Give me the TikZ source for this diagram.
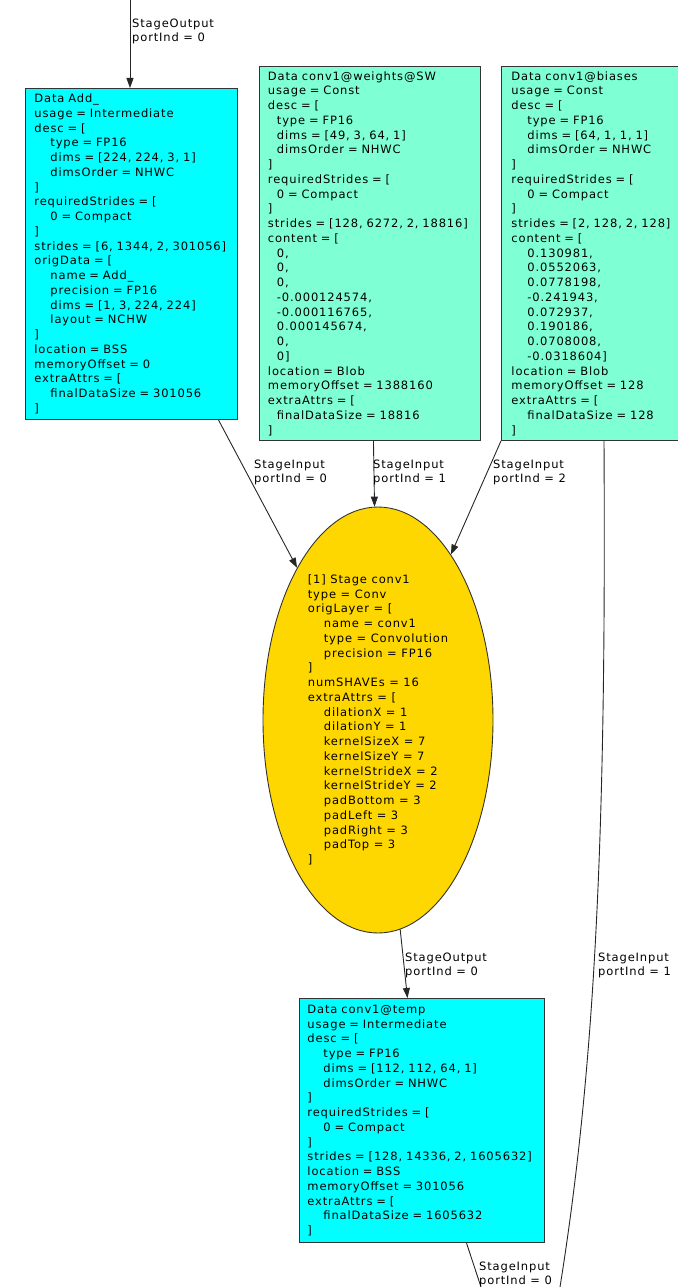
\documentclass[tikz,border=0pt]{standalone}
\usepackage{fontspec}
\newfontfamily\gv[LetterSpace=7.5]{DejaVu Sans}
\usetikzlibrary{arrows.meta,shapes.geometric}
\definecolor{gvcyan}{HTML}{00FFFF}
\definecolor{gvaqua}{HTML}{7FFFD4}
\definecolor{gvgold}{HTML}{FFD700}
\newcommand\IA{\hspace*{16pt}}
\newcommand\IB{\hspace*{9pt}}
\tikzset{
  gvfont/.style={font=\gv\fontsize{11.5}{14.75}\selectfont},
  databox/.style={gvfont, draw=black!80, line width=0.9pt, rectangle, anchor=north west,
    align=left, inner xsep=9pt, inner ysep=0pt},
  stagebox/.style={gvfont, draw=black!80, line width=0.9pt, ellipse, fill=gvgold,
    align=left, inner sep=0pt, minimum width=230pt, minimum height=426pt},
  elabel/.style={gvfont, anchor=west, align=left, inner sep=0pt},
  arr/.style={line width=0.9pt, draw=black!85, -{Triangle[length=10pt,width=7pt]}},
  plain/.style={line width=0.9pt, draw=black!85},
}
\begin{document}
\begin{tikzpicture}[x=1pt,y=-1pt]
\useasboundingbox (0,0) rectangle (677,1287);

\node[databox, fill=gvcyan, minimum width=212pt, minimum height=331pt, text width=194pt] (add) at (25,88) {%
Data Add\_\\
usage = Intermediate\\
desc = [\\
\IA type = FP16\\
\IA dims = [224, 224, 3, 1]\\
\IA dimsOrder = NHWC\\
]\\
requiredStrides = [\\
\IA 0 = Compact\\
]\\
strides = [6, 1344, 2, 301056]\\
origData = [\\
\IA name = Add\_\\
\IA precision = FP16\\
\IA dims = [1, 3, 224, 224]\\
\IA layout = NCHW\\
]\\
location = BSS\\
memoryOffset = 0\\
extraAttrs = [\\
\IA finalDataSize = 301056\\
]};

\node[databox, fill=gvaqua, minimum width=221pt, minimum height=374pt, text width=204pt, inner xsep=8.5pt] (w) at (259,66) {%
Data conv1@weights@SW\\
usage = Const\\
desc = [\\
\IB type = FP16\\
\IB dims = [49, 3, 64, 1]\\
\IB dimsOrder = NHWC\\
]\\
requiredStrides = [\\
\IB 0 = Compact\\
]\\
strides = [128, 6272, 2, 18816]\\
content = [\\
\IB 0,\\
\IB 0,\\
\IB 0,\\
\IB -0.000124574,\\
\IB -0.000116765,\\
\IB 0.000145674,\\
\IB 0,\\
\IB 0]\\
location = Blob\\
memoryOffset = 1388160\\
extraAttrs = [\\
\IB finalDataSize = 18816\\
]};

\node[databox, fill=gvaqua, minimum width=190pt, minimum height=374pt, text width=170pt, inner xsep=10pt] (b) at (501,66) {%
Data conv1@biases\\
usage = Const\\
desc = [\\
\IA type = FP16\\
\IA dims = [64, 1, 1, 1]\\
\IA dimsOrder = NHWC\\
]\\
requiredStrides = [\\
\IA 0 = Compact\\
]\\
strides = [2, 128, 2, 128]\\
content = [\\
\IA 0.130981,\\
\IA 0.0552063,\\
\IA 0.0778198,\\
\IA -0.241943,\\
\IA 0.072937,\\
\IA 0.190186,\\
\IA 0.0708008,\\
\IA -0.0318604]\\
location = Blob\\
memoryOffset = 128\\
extraAttrs = [\\
\IA finalDataSize = 128\\
]};

\node[stagebox] (stage) at (378,720) {%
[1] Stage conv1\\
type = Conv\\
origLayer = [\\
\IA name = conv1\\
\IA type = Convolution\\
\IA precision = FP16\\
]\\
numSHAVEs = 16\\
extraAttrs = [\\
\IA dilationX = 1\\
\IA dilationY = 1\\
\IA kernelSizeX = 7\\
\IA kernelSizeY = 7\\
\IA kernelStrideX = 2\\
\IA kernelStrideY = 2\\
\IA padBottom = 3\\
\IA padLeft = 3\\
\IA padRight = 3\\
\IA padTop = 3\\
]};

\node[databox, fill=gvcyan, minimum width=245pt, minimum height=244pt, text width=229pt, inner xsep=8pt] (temp) at (299,998) {%
Data conv1@temp\\
usage = Intermediate\\
desc = [\\
\IA type = FP16\\
\IA dims = [112, 112, 64, 1]\\
\IA dimsOrder = NHWC\\
]\\
requiredStrides = [\\
\IA 0 = Compact\\
]\\
strides = [128, 14336, 2, 1605632]\\
location = BSS\\
memoryOffset = 301056\\
extraAttrs = [\\
\IA finalDataSize = 1605632\\
]};

\coordinate (topin) at (130,0);
\coordinate (bot1) at (481,1287);
\coordinate (bot2) at (560,1287);

\draw[arr] (topin) -- (add.north -| topin);
\draw[arr] ([xshift=87pt]add.south) -- (stage);
\draw[arr] ([xshift=3.5pt]w.south) -- (stage);
\draw[arr] (b.south west) -- (stage);
\draw[plain] ([xshift=103pt]b.south west) .. controls (606,800) and (598,1050) .. (bot2);
\draw[arr] (stage) -- ([xshift=-14.5pt]temp.north);
\draw[plain] ([xshift=44.5pt]temp.south) -- (bot1);

\node[elabel] (l0) at (132,31.5) {StageOutput\\portInd = 0};
\node[elabel] (l1) at (254,472.5) {StageInput\\portInd = 0};
\node[elabel] (l2) at (373,472.5) {StageInput\\portInd = 1};
\node[elabel] (l3) at (493,472.5) {StageInput\\portInd = 2};
\node[elabel] (l4) at (405,965.5) {StageOutput\\portInd = 0};
\node[elabel] (l5) at (598,965.5) {StageInput\\portInd = 1};
\node[elabel] (l6) at (479,1274.5) {StageInput\\portInd = 0};
\end{tikzpicture}
\end{document}
